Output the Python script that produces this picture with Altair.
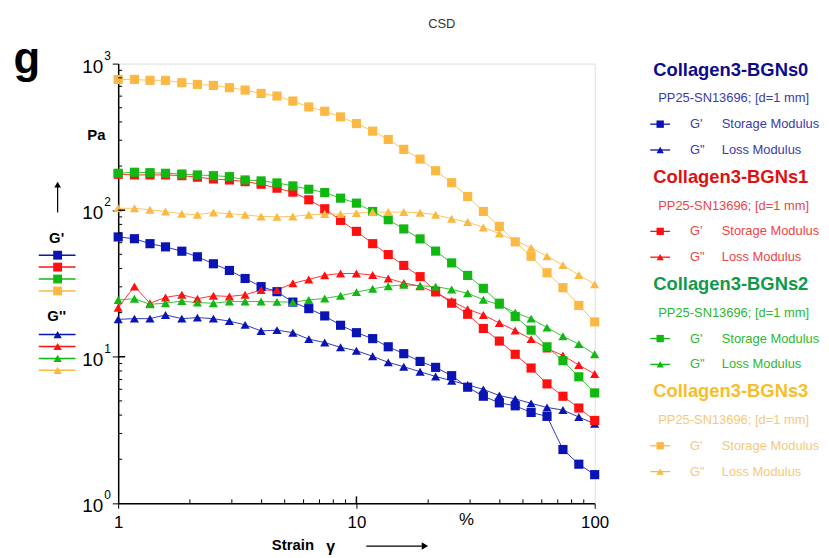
import altair as alt
import pandas as pd

FONT = "Liberation Sans"

strain = [1, 1.17, 1.36, 1.58, 1.85, 2.15, 2.51, 2.93, 3.41, 3.98, 4.64, 5.41, 6.31, 7.36, 8.58,
          10, 11.7, 13.6, 15.8, 18.5, 21.5, 25.1, 29.3, 34.1, 39.8, 46.4, 54.1, 63.1, 73.6, 85.8, 100]

bgns0_storage = [65.7, 63.9, 59.1, 56.2, 52.5, 48.1, 43.1, 38.8, 34.2, 30.1, 27.8, 23.6, 21.3, 19.0, 16.4,
                 14.6, 13.3, 11.7, 10.5, 9.3, 8.47, 7.43, 6.2, 5.38, 4.85, 4.63, 4.17, 3.92, 2.33, 1.85, 1.57]
bgns0_loss = [18.0, 18.2, 18.2, 19.3, 18.2, 18.5, 18.2, 17.5, 16.5, 15.0, 15.2, 14.6, 13.2, 12.5, 11.6,
              11.0, 10.07, 9.16, 8.55, 7.91, 7.34, 6.87, 6.43, 5.99, 5.44, 5.16, 4.81, 4.51, 4.33, 3.88, 3.49]
bgns1_storage = [175.8, 174, 174, 174, 172, 167.9, 163.4, 160.8, 156.6, 150.4, 141.3, 132.8, 117.7, 102.3, 85.2,
                 71.7, 59.1, 49.8, 42.0, 35.2, 27.9, 23.2, 19.5, 15.6, 12.8, 10.4, 8.38, 6.53, 5.38, 4.47, 3.68]
bgns1_loss = [21.6, 30.2, 23.2, 25.4, 26.5, 24.9, 26.1, 25.8, 26.5, 28.5, 28.5, 31.7, 33.7, 36.0, 37.0,
              37.0, 36.1, 34.2, 31.9, 30.3, 27.4, 24.0, 21.1, 19.3, 17.0, 15.1, 13.2, 11.4, 10.2, 8.79, 7.63]
bgns2_storage = [178.6, 181.5, 180.3, 178.6, 176.6, 174, 172, 169.4, 160.8, 158.4, 153.5, 146.5, 139, 131.9, 120.8,
                 111.7, 98, 86.1, 74.5, 63.7, 52.6, 43.7, 35.9, 29.3, 23.2, 18.8, 15.2, 11.7, 9.4, 7.3, 5.67]
bgns2_loss = [24.4, 24.9, 22.8, 23.2, 24.0, 23.4, 23.2, 23.8, 23.8, 23.8, 23.7, 23.6, 24.4, 25.0, 26.1,
              27.6, 29.1, 30.3, 31.0, 30.5, 30.1, 28.8, 27.1, 24.5, 22.6, 20.0, 18.2, 15.8, 13.8, 12.2, 10.4]
bgns3_storage = [780, 780, 769, 769, 741, 721, 710, 685, 660, 626, 601, 555, 506, 473, 433,
                 390, 346, 304, 260, 223, 186, 154, 124, 98, 77.5, 60.8, 48.5, 37.4, 29.6, 22.4, 17.3]
bgns3_loss = [103, 103, 100.6, 98, 94.5, 93, 96.5, 94.5, 93, 90.6, 90.2, 90.6, 93, 94.1, 94.1,
              95.5, 97.1, 97.1, 97.1, 96, 93, 87.4, 83, 76.3, 69.2, 62, 55.3, 48.5, 42.2, 36.1, 31.2]

samples = ["Collagen3-BGNs0", "Collagen3-BGNs1", "Collagen3-BGNs2", "Collagen3-BGNs3"]
series_colors = ["#0A14B4", "#FF1010", "#12B812", "#FBB943"]
title_colors = ["#0A0A8C", "#DD1111", "#0F9A4A", "#F7BE2A"]
text_colors = ["#3A3AAA", "#EE4444", "#2DB82D", "#F8C878"]
moduli = ["G' Storage Modulus", "G\" Loss Modulus"]
subtitle = "PP25-SN13696; [d=1 mm]"

storage = [bgns0_storage, bgns1_storage, bgns2_storage, bgns3_storage]
loss = [bgns0_loss, bgns1_loss, bgns2_loss, bgns3_loss]

rows = []
for s, st, lo in zip(samples, storage, loss):
    for x, v in zip(strain, st):
        rows.append({"strain": x, "value": v, "sample": s, "modulus": moduli[0], "series": s + "S"})
    for x, v in zip(strain, lo):
        rows.append({"strain": x, "value": v, "sample": s, "modulus": moduli[1], "series": s + "L"})
df = pd.DataFrame(rows)

W, H = 480, 443
xscale = alt.Scale(type="log", domain=[1, 100], nice=False)
yscale = alt.Scale(type="log", domain=[1, 1000], nice=False)
cscale = alt.Scale(domain=samples, range=series_colors)
sscale = alt.Scale(domain=moduli, range=["square", "triangle-up"])

base = alt.Chart(df)
lines = base.mark_line(strokeWidth=1, opacity=0.85).encode(
    x=alt.X("strain:Q", scale=xscale,
            axis=alt.Axis(values=[1, 10, 100], title=None, labelFontSize=17, labelFont=FONT,
                          labelColor="black", labelPadding=6, tickSize=5, tickColor="black",
                          domainColor="black", domainWidth=1.5, grid=False, labelFlush=False)),
    y=alt.Y("value:Q", scale=yscale,
            axis=alt.Axis(values=[1, 10, 100, 1000], title=None, labels=False, tickSize=6,
                          tickColor="black", domainColor="black", domainWidth=1.5, grid=False)),
    color=alt.Color("sample:N", scale=cscale, legend=None),
    detail="series:N",
)
points = base.mark_point(filled=True, opacity=1, strokeWidth=0).encode(
    x=alt.X("strain:Q", scale=xscale),
    y=alt.Y("value:Q", scale=yscale),
    color=alt.Color("sample:N", scale=cscale, legend=None),
    shape=alt.Shape("modulus:N", scale=sscale, legend=None),
    size=alt.value(85),
)

# minor ticks (inside)
minor_vals = [m * d for d in [1, 10] for m in range(2, 10)]
minor_y_vals = [m * d for d in [1, 10, 100] for m in range(2, 10)]
xminor = alt.Chart(pd.DataFrame({"strain": minor_vals})).mark_rule(color="black", strokeWidth=1).encode(
    x=alt.X("strain:Q", scale=xscale), y=alt.value(H), y2=alt.value(H - 4))
xmajor_in = alt.Chart(pd.DataFrame({"strain": [10]})).mark_rule(color="black", strokeWidth=1.5).encode(
    x=alt.X("strain:Q", scale=xscale), y=alt.value(H), y2=alt.value(H - 7))
yminor = alt.Chart(pd.DataFrame({"value": minor_y_vals})).mark_rule(color="black", strokeWidth=1).encode(
    y=alt.Y("value:Q", scale=yscale), x=alt.value(0), x2=alt.value(4))
ymajor_in = alt.Chart(pd.DataFrame({"value": [10, 100]})).mark_rule(color="black", strokeWidth=1.5).encode(
    y=alt.Y("value:Q", scale=yscale), x=alt.value(0), x2=alt.value(7))

# y tick labels 10^n
ylab_df = pd.DataFrame({"value": [1, 10, 100, 1000], "exp": ["0", "1", "2", "3"]})
ylab = alt.Chart(ylab_df).mark_text(text="10", font=FONT, fontSize=19, align="right", baseline="middle",
                                    dy=3, color="black").encode(
    y=alt.Y("value:Q", scale=yscale), x=alt.value(-15))
yexp = alt.Chart(ylab_df).mark_text(font=FONT, fontSize=12, align="left", baseline="middle",
                                    dy=-8, color="black").encode(
    y=alt.Y("value:Q", scale=yscale), x=alt.value(-14), text="exp:N")


def txt(s, x, y, size, color="black", weight="normal", align="left", style="normal"):
    return alt.Chart(alt.Data(values=[{"t": s}])).mark_text(
        text=s, font=FONT, fontSize=size, color=color, fontWeight=weight, align=align,
        baseline="middle", fontStyle=style).encode(x=alt.value(x), y=alt.value(y))


def rule(x1, x2, y1, y2, color, width=1.2):
    return alt.Chart(alt.Data(values=[{"t": 1}])).mark_rule(color=color, strokeWidth=width).encode(
        x=alt.value(x1), x2=alt.value(x2), y=alt.value(y1), y2=alt.value(y2))


def marker(x, y, shape, color, size):
    return alt.Chart(alt.Data(values=[{"t": 1}])).mark_point(
        shape=shape, filled=True, color=color, size=size, opacity=1, strokeWidth=0).encode(
        x=alt.value(x), y=alt.value(y))


annos = []
# chart title and panel letter
annos.append(txt("CSD", 326, -40, 13, "#333333", align="center"))
annos.append(txt("g", -92, -4, 44, "black", weight="bold", align="center"))
# axis texts
annos.append(txt("%", 351, 460, 17, "black", align="center"))
annos.append(txt("Strain", 176, 485, 15, "black", weight="bold", align="center"))
annos.append(txt("γ", 214, 487, 16, "black", weight="bold", align="center"))
annos.append(rule(250, 306, 486, 486, "black", 1.2))
annos.append(marker(309, 486, "triangle-right", "black", 55))
annos.append(txt("Pa", -22, 72, 15, "black", weight="bold", align="center"))
annos.append(rule(-61, -61, 122, 150, "black", 1.2))
annos.append(marker(-61, 122, "triangle-up", "black", 45))

# left legend swatches
annos.append(txt("G'", -62, 176, 15, "black", weight="bold", align="center"))
annos.append(txt("G''", -62, 254, 15, "black", weight="bold", align="center"))
for i, c in enumerate(series_colors):
    ys = 193 + i * 12
    annos.append(rule(-80, -43, ys, ys, c, 1.5))
    annos.append(marker(-61, ys, "square", c, 80))
    yl = 273 + i * 12
    annos.append(rule(-80, -43, yl, yl, c, 1.5))
    annos.append(marker(-61, yl, "triangle-up", c, 70))

# right legend
for i, s in enumerate(samples):
    y0 = 6 + i * 108
    annos.append(txt(s, 539, y0, 18.5, title_colors[i], weight="bold"))
    annos.append(txt(subtitle, 544, y0 + 29, 13, text_colors[i]))
    for j, (shape, a, b) in enumerate([("square", "G'", "Storage Modulus"),
                                         ("triangle-up", "G\"", "Loss Modulus")]):
        yy = y0 + 55 + j * 26
        annos.append(rule(536, 556, yy, yy, series_colors[i], 1.3))
        annos.append(marker(546, yy, shape, series_colors[i], 55))
        annos.append(txt(a, 576, yy, 13, text_colors[i]))
        annos.append(txt(b, 608, yy, 13, text_colors[i]))

chart = alt.layer(
    lines, points, xminor, xmajor_in, yminor, ymajor_in, ylab, yexp, *annos
).properties(
    width=W, height=H,
    autosize=alt.AutoSizeParams(type="none"),
    padding={"left": 111, "top": 54, "right": 228, "bottom": 50},
).configure_view(
    stroke="#555555", strokeWidth=1.2
).configure(background="white")

chart.save("out.html", embed_options={"renderer": "svg", "actions": False})
